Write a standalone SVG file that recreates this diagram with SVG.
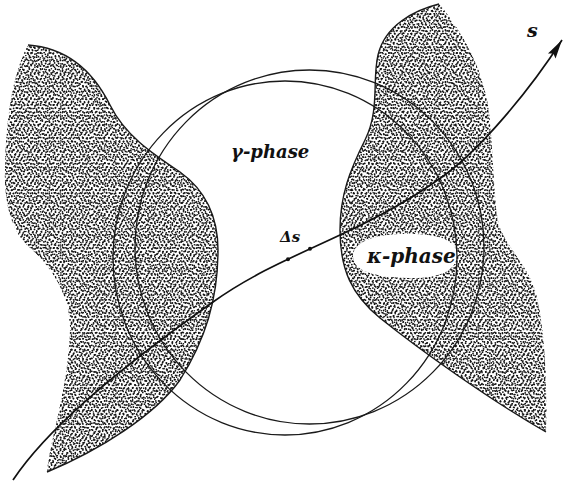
<svg xmlns="http://www.w3.org/2000/svg" xmlns:xlink="http://www.w3.org/1999/xlink" width="564" height="485" viewBox="0 0 564 485">
<defs>
<style>
.outline{fill:none;stroke:#1a1a1a;stroke-width:1.4;stroke-linejoin:round}
.circ{fill:none;stroke:#1a1a1a;stroke-width:1.3}
.curve{fill:none;stroke:#111;stroke-width:1.7}
.lbl{font-family:"DejaVu Serif","Liberation Serif",serif;font-style:italic;font-weight:bold;fill:#111}
.dot{fill:#111}
</style>
<pattern id="stA" width="13" height="13" patternUnits="userSpaceOnUse">
<g fill="#111">
<circle cx="1.5" cy="1.2" r="0.9"/><circle cx="5.2" cy="0.6" r="0.9"/><circle cx="8.9" cy="2.1" r="0.9"/><circle cx="11.8" cy="0.9" r="0.9"/>
<circle cx="3.4" cy="4.0" r="0.9"/><circle cx="7.1" cy="4.6" r="0.9"/><circle cx="10.6" cy="5.2" r="0.9"/><circle cx="0.8" cy="7.3" r="0.9"/>
<circle cx="4.9" cy="7.9" r="0.9"/><circle cx="8.5" cy="8.4" r="0.9"/><circle cx="12.2" cy="8.0" r="0.9"/><circle cx="2.6" cy="10.9" r="0.9"/>
<circle cx="6.6" cy="11.5" r="0.9"/><circle cx="10.3" cy="11.8" r="0.9"/>
</g>
</pattern>
<pattern id="stB" width="17" height="17" patternUnits="userSpaceOnUse">
<g fill="#111">
<circle cx="2.3" cy="2.8" r="0.85"/><circle cx="6.8" cy="1.5" r="0.85"/><circle cx="11.4" cy="3.3" r="0.85"/><circle cx="15.2" cy="1.9" r="0.85"/>
<circle cx="0.7" cy="6.1" r="0.85"/><circle cx="4.5" cy="5.7" r="0.85"/><circle cx="9.2" cy="7.0" r="0.85"/><circle cx="13.6" cy="6.4" r="0.85"/>
<circle cx="2.8" cy="9.9" r="0.85"/><circle cx="7.3" cy="10.5" r="0.85"/><circle cx="11.8" cy="9.6" r="0.85"/><circle cx="16.1" cy="10.8" r="0.85"/>
<circle cx="0.9" cy="14.2" r="0.85"/><circle cx="5.4" cy="13.8" r="0.85"/><circle cx="9.7" cy="14.9" r="0.85"/><circle cx="14.0" cy="13.5" r="0.85"/>
<circle cx="3.6" cy="16.3" r="0.85"/><circle cx="12.1" cy="16.2" r="0.85"/>
</g>
</pattern>
<pattern id="stC" width="11" height="11" patternUnits="userSpaceOnUse">
<g fill="#111">
<circle cx="0.6" cy="3.2" r="0.8"/><circle cx="3.8" cy="0.5" r="0.8"/><circle cx="7.4" cy="2.7" r="0.8"/><circle cx="10.2" cy="5.8" r="0.8"/>
<circle cx="2.2" cy="6.6" r="0.8"/><circle cx="5.9" cy="8.9" r="0.8"/><circle cx="9.0" cy="9.6" r="0.8"/><circle cx="5.4" cy="5.0" r="0.8"/>
</g>
</pattern>
<marker id="arrow" markerWidth="20" markerHeight="10" refX="19" refY="5" orient="auto" markerUnits="userSpaceOnUse" overflow="visible">
<path d="M0,0.5 L19,5 L0,9.5 L3,5 Z" fill="#111"/>
</marker>
<path id="leftShape" d="M28,45 C70,48 95,75 110,105 C125,135 150,152 180,172 C205,190 218,215 218,250 C218,300 205,340 180,380 C155,415 100,450 47,472 C50,440 68,390 70,330 C71,295 50,265 30,248 C10,230 4,200 5,170 C6,120 12,75 28,45 Z"/>
<path id="rightShape" d="M439,4 C415,10 385,25 378,55 C372,80 380,110 365,140 C350,170 340,195 340,230 C340,270 352,295 380,318 C420,350 490,400 546,432 C547,390 546,330 535,290 C527,265 505,245 499,225 C493,200 494,150 488,105 C482,70 465,35 439,4 Z"/>
</defs>
<rect width="564" height="485" fill="#fff"/>

<g id="phase-left">
<use xlink:href="#leftShape" fill="url(#stA)"/>
<use xlink:href="#leftShape" fill="url(#stB)"/>
<use xlink:href="#leftShape" fill="url(#stC)"/>
<path class="outline" d="M28,45 C70,48 95,75 110,105 C125,135 150,152 180,172 C205,190 218,215 218,250 C218,300 205,340 180,380 C155,415 100,450 47,472"/>
</g>

<g id="phase-right">
<use xlink:href="#rightShape" fill="url(#stA)"/>
<use xlink:href="#rightShape" fill="url(#stB)"/>
<use xlink:href="#rightShape" fill="url(#stC)"/>
<path class="outline" d="M439,4 C415,10 385,25 378,55 C372,80 380,110 365,140 C350,170 340,195 340,230 C340,270 352,295 380,318 C420,350 490,400 546,432"/>
</g>

<g id="kappa-phase">
<path d="M353,257 C352,240 380,233 410,234 C440,234 457,241 457,255 C457,270 440,279 408,278 C376,277 354,272 353,257 Z" fill="#fff"/>
<text class="lbl" x="367" y="263" font-size="20">κ-phase</text>
</g>

<g id="circle-left">
<ellipse class="circ" cx="285" cy="258" rx="172" ry="177"/>
</g>
<g id="circle-right">
<ellipse class="circ" cx="309.5" cy="247" rx="174.5" ry="177"/>
</g>

<g id="gamma-phase">
<text class="lbl" x="231" y="158" font-size="18">γ-phase</text>
</g>

<g id="connectors">
<path class="curve" marker-end="url(#arrow)" d="M13,480 C45,432 110,375 213,302 C255,272 300,254 340,235 C375,219 410,200 442,177 C480,150 530,90 562,40"/>
<circle class="dot" cx="288" cy="259.2" r="2"/>
<circle class="dot" cx="310" cy="248.8" r="2"/>
<text class="lbl" x="280" y="242" font-size="15">Δs</text>
<text class="lbl" x="527" y="37" font-size="19">s</text>
</g>
</svg>
